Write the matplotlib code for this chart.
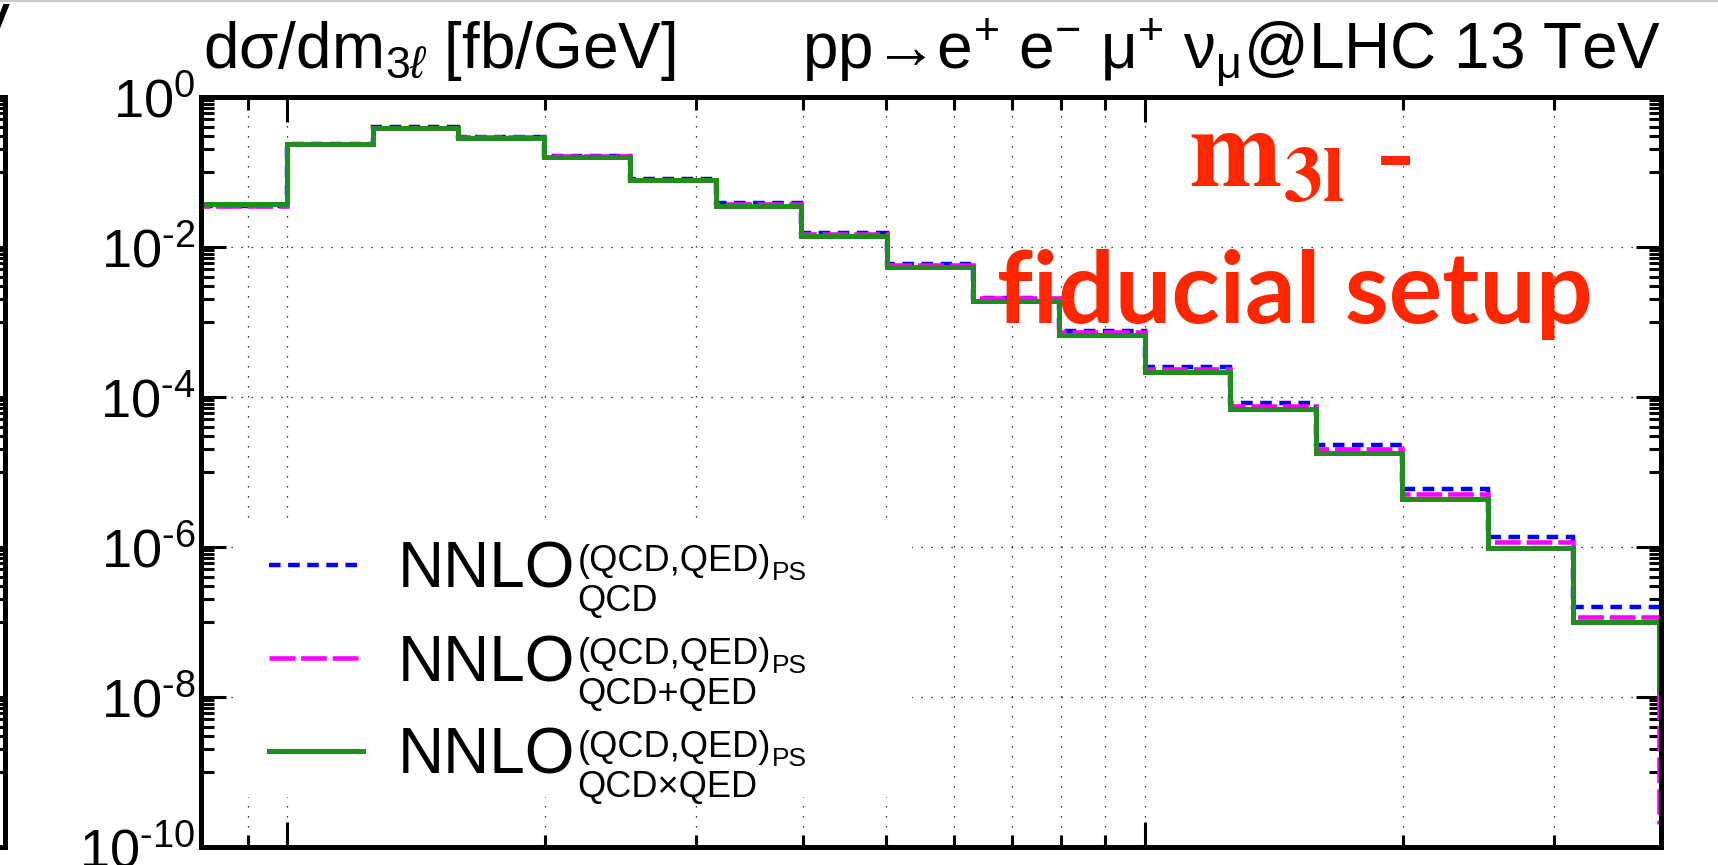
import matplotlib
matplotlib.use("Agg")
import matplotlib.pyplot as plt
from matplotlib.ticker import FixedLocator, NullFormatter, FixedFormatter
from matplotlib.lines import Line2D
from matplotlib.patches import Rectangle

plt.rcParams["font.family"] = ["Liberation Sans", "DejaVu Sans"]
plt.rcParams["mathtext.fontset"] = "custom"
plt.rcParams["mathtext.rm"] = "Liberation Sans"
plt.rcParams["mathtext.it"] = "Liberation Sans:italic"
plt.rcParams["mathtext.bf"] = "Liberation Sans:bold"

# m_3l bins [GeV], 10 per decade
bin_edges = [79.43, 100.0, 125.89, 158.49, 199.53, 251.19, 316.23, 398.11, 501.19,
             630.96, 794.33, 1000.0, 1258.9, 1584.9, 1995.3, 2511.9, 3162.3, 3981.1]

# dsigma/dm_3l [fb/GeV]
nnlo_qcd = [0.0350, 0.232, 0.389, 0.290, 0.161, 0.0790, 0.0382, 0.0152, 0.0058,
            0.00209, 7.5e-4, 2.50e-4, 8.2e-5, 2.24e-5, 5.9e-6, 1.36e-6, 1.55e-7]
nnlo_qcd_plus_qed = [0.0348, 0.231, 0.388, 0.289, 0.160, 0.0786, 0.0370, 0.0149, 0.0057,
                     0.00205, 7.3e-4, 2.33e-4, 7.44e-5, 2.02e-5, 5.06e-6, 1.16e-6, 1.15e-7]
nnlo_qcd_times_qed = [0.0371, 0.231, 0.386, 0.284, 0.158, 0.0774, 0.0352, 0.0140, 0.0053,
                      0.0019, 6.64e-4, 2.13e-4, 6.79e-5, 1.79e-5, 4.38e-6, 9.5e-7, 9.9e-8]

ytick_exp = ["-10", "-8", "-6", "-4", "-2", "0"]
sub_labels = ["QCD", "QCD+QED", "QCD×QED"]
styles = [dict(color="#0000ff", lw=3.2, linestyle=(0, (2.6, 1.7))),
          dict(color="#ff00ff", lw=3.3, linestyle=(0, (5.6, 1.3))),
          dict(color="#228b22", lw=3.6, linestyle="-")]

W, H = 1718, 865
fig = plt.figure(figsize=(W / 100, H / 100), dpi=100)

ax_l, ax_r, ax_t, ax_b = 201, 1661, 96.7, 846.7
ax = fig.add_axes([ax_l / W, 1 - ax_b / H, (ax_r - ax_l) / W, (ax_b - ax_t) / H])

ax.stairs(nnlo_qcd, bin_edges, baseline=None, zorder=2.2, **styles[0])
ax.stairs(nnlo_qcd_plus_qed, bin_edges, baseline=2e-10, zorder=2.3, **styles[1])
ax.stairs(nnlo_qcd_times_qed, bin_edges, baseline=1.1e-8, zorder=2.4, **styles[2])

ymajor = [1e-10, 1e-8, 1e-6, 1e-4, 1e-2, 1]
yminor = [k * 10.0 ** e for e in (-1, -3, -5, -7, -9) for k in range(1, 10)]


def log_axes(a):
    a.set_xscale("log")
    a.set_yscale("log")
    a.set_ylim(1e-10, 1)
    a.yaxis.set_major_locator(FixedLocator(ymajor))
    a.yaxis.set_minor_locator(FixedLocator(yminor))
    a.yaxis.set_minor_formatter(NullFormatter())
    for s in a.spines.values():
        s.set_linewidth(3.6)
    a.tick_params(which="major", direction="in", length=18, width=2.2,
                  top=True, right=True, labelbottom=False)
    a.tick_params(which="minor", direction="in", length=9, width=2.2,
                  top=True, right=True, labelbottom=False)


log_axes(ax)
ax.set_xlim(bin_edges[0], 4000)
ax.xaxis.set_major_locator(FixedLocator([100, 1000]))
ax.xaxis.set_minor_locator(FixedLocator([90, 200, 300, 400, 500, 600, 700, 800, 900, 2000, 3000]))
ax.xaxis.set_minor_formatter(NullFormatter())
ax.yaxis.set_major_formatter(FixedFormatter(
    [r"$\mathregular{10^{\text{%s}}}$" % e for e in ytick_exp]))
ax.tick_params(axis="y", labelsize=39, pad=4)

ax.grid(True, axis="y", which="major", color="black", linestyle=(0, (1, 7)), lw=0.9)
ax.grid(True, axis="x", which="both", color="black", linestyle=(0, (1, 7)), lw=0.9)

# legend: white box, handles, NNLO^{(QCD,QED)_PS}_{...}
fig.add_artist(Rectangle((235 / W, 1 - 797 / H), (912 - 235) / W, (797 - 520) / H,
                         transform=fig.transFigure, facecolor="white",
                         edgecolor="none", zorder=1))
fig.canvas.draw()
rend = fig.canvas.get_renderer()
for i, (sub, st) in enumerate(zip(sub_labels, styles)):
    yh = 565 + 93 * i
    yb = 588 + 93 * i
    fig.add_artist(Line2D([269 / W, 363 / W], [1 - yh / H, 1 - yh / H],
                          transform=fig.transFigure, zorder=2, **st))
    nn = fig.text(398 / W, 1 - yb / H, "NNLO", fontsize=46, va="baseline", zorder=3)
    x1 = nn.get_window_extent(rend).x1 + 2
    sp = fig.text(x1 / W, 1 - (yb - 17) / H, "(QCD,QED)", fontsize=26,
                  va="baseline", zorder=3)
    fig.text((sp.get_window_extent(rend).x1 + 1) / W, 1 - (yb - 8) / H, "PS",
             fontsize=19, va="baseline", zorder=3)
    fig.text(x1 / W, 1 - (yb + 23) / H, sub, fontsize=26, va="baseline", zorder=3)

# neighbouring panel, cut at the left border
axp = fig.add_axes([(5 - 1460) / W, 1 - ax_b / H, 1460 / W, (ax_b - ax_t) / H])
log_axes(axp)
axp.set_xlim(bin_edges[0], 4000)
axp.set_xticks([])
axp.set_xticks([], minor=True)
axp.tick_params(labelleft=False)
fig.text(11 / W, 1 - 49 / H, "GeV", fontsize=46, ha="right", va="baseline")

fig.text(203 / W, 1 - 68 / H, r"dσ/dm$_{3\ell}$ [fb/GeV]", fontsize=46,
         ha="left", va="baseline")
fig.text(ax_r / W, 1 - 68 / H,
         r"pp→e$^{+}$ e$^{−}$ μ$^{+}$ ν$_{\mathrm{μ}}$@LHC 13 TeV",
         fontsize=46, ha="right", va="baseline")

red = "#ff2600"
fig.text(1300 / W, 1 - 186 / H, r"$\mathbf{m_{3l}}$ -", fontsize=80, color=red,
         ha="center", va="baseline", fontfamily="Liberation Serif",
         fontweight="bold", math_fontfamily="stix")
fig.text(1295 / W, 1 - 323 / H, "fiducial setup", fontsize=72, color=red,
         ha="center", va="baseline", fontfamily="Lato", fontweight="bold")

fig.add_artist(Line2D([0, 1], [1 - 1 / H, 1 - 1 / H], transform=fig.transFigure,
                      color="#c8c8c8", lw=1.5))

fig.savefig("out.png", dpi=100)
